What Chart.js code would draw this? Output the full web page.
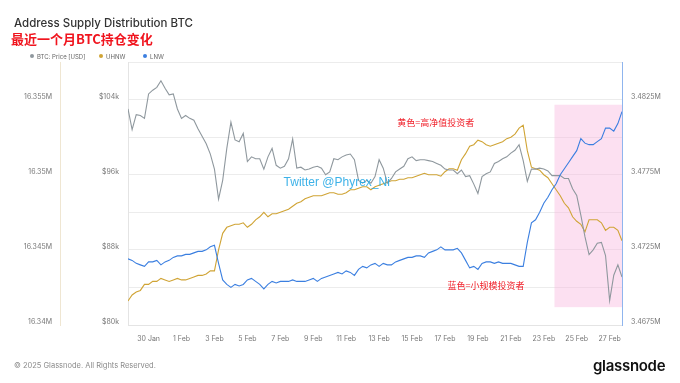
<!DOCTYPE html>
<html>
<head>
<meta charset="utf-8">
<script src="https://cdn.jsdelivr.net/npm/chart.js@4.4.1/dist/chart.umd.min.js"></script>
<style>
  html, body { margin: 0; padding: 0; background: #fff; }
  #wrap { position: relative; width: 680px; height: 383px; overflow: hidden; font-family: Inter, 'Noto Sans', sans-serif; }
  #chart { position: absolute; left: 0; top: 0; }
  .title { position: absolute; left: 14px; top: 16px; font-size: 11.5px; color: #333; font-weight: 500; white-space: nowrap; }
  .sub { position: absolute; left: 11px; top: 29px; font-size: 13px; color: #f0141e; font-weight: 700; font-family: 'Noto Sans CJK SC', sans-serif; white-space: nowrap; }
  .lg { position: absolute; top: 53px; font-size: 6px; color: #666; white-space: nowrap; }
  .lg i { display: inline-block; width: 4px; height: 4px; border-radius: 50%; margin-right: 3px; vertical-align: middle; position: relative; top: -1px; }
  .foot { position: absolute; left: 14px; top: 361px; font-size: 7.5px; color: #8a8a8a; white-space: nowrap; }
  .logo { position: absolute; left: 593px; top: 356px; font-size: 15px; font-weight: 600; color: #111; letter-spacing: -0.3px; }
</style>
</head>
<body>
<div id="wrap">
  <canvas id="chart" width="680" height="383"></canvas>
  <div class="title">Address Supply Distribution BTC</div>
  <div class="sub">最近一个月BTC持仓变化</div>
  <div class="lg" style="left:30px"><i style="background:#8f989e"></i>BTC: Price [USD]</div>
  <div class="lg" style="left:99px"><i style="background:#d0a435"></i>UHNW</div>
  <div class="lg" style="left:143px"><i style="background:#3b7fe0"></i>LNW</div>
  <div class="foot">© 2025 Glassnode. All Rights Reserved.</div>
  <div class="logo">glassnode</div>
</div>
<script>
// 6-hourly samples, 28 Jan 18:00 -> 27 Feb 18:00 (days since 30 Jan 00:00)
const sampleDays = Array.from({ length: 121 }, (_, i) => -1.25 + i * 0.25);

const xTicks = [0, 2, 4, 6, 8, 10, 12, 14, 16, 18, 20, 22, 24, 26, 28];
const xTickLabels = ['30 Jan', '1 Feb', '3 Feb', '5 Feb', '7 Feb', '9 Feb', '11 Feb', '13 Feb',
  '15 Feb', '17 Feb', '19 Feb', '21 Feb', '23 Feb', '25 Feb', '27 Feb'];

const priceTicksK = [80, 84, 88, 92, 96, 100, 104, 108];
const priceLabelTicksK = [80, 88, 96, 104];
const uhnwTicksM = [16.34, 16.345, 16.35, 16.355];
const lnwTicksM = [3.4675, 3.4725, 3.4775, 3.4825];

// BTC price, $k
const btcPriceK = [
  103.0, 100.8, 102.4, 102.3, 102.0, 104.6, 105.0, 105.3, 106.0, 105.2,
  104.5, 104.6, 103.0, 102.0, 102.3, 102.0, 101.8, 100.9, 100.1, 99.3,
  98.2, 96.6, 93.4, 95.4, 98.8, 101.6, 99.7, 99.5, 100.4, 97.4,
  97.9, 97.7, 97.7, 96.6, 97.9, 98.8, 97.0, 96.7, 96.9, 97.7,
  99.8, 96.7, 96.8, 96.5, 96.6, 96.8, 96.9, 96.7, 96.0, 96.3,
  97.7, 97.6, 97.9, 98.1, 98.2, 97.6, 95.4, 95.1, 95.4, 95.1,
  95.8, 97.6, 96.7, 95.1, 95.6, 96.3, 96.6, 96.9, 97.7, 97.9,
  97.5, 97.6, 97.6, 97.5, 97.4, 97.2, 97.0, 96.6, 96.5, 96.5,
  96.1, 96.5, 95.8, 95.9, 95.0, 94.0, 95.8, 96.1, 96.3, 97.2,
  97.4, 97.7, 97.9, 98.3, 98.6, 99.2, 97.5, 95.3, 96.6, 96.6,
  96.7, 96.6, 96.4, 95.9, 95.9, 95.9, 95.6, 95.6, 94.5, 93.8,
  91.7, 89.4, 87.5, 88.0, 88.7, 88.8, 87.4, 82.6, 85.3, 86.4,
  85.1
];

// UHNW supply, M BTC
const uhnwM = [
  16.3416, 16.3420, 16.3422, 16.3423, 16.3427, 16.3427, 16.3429, 16.3429, 16.3431, 16.3430,
  16.3429, 16.3430, 16.3431, 16.3430, 16.3430, 16.3431, 16.3432, 16.3433, 16.3433, 16.3434,
  16.3436, 16.3436, 16.3450, 16.3461, 16.3465, 16.3466, 16.3467, 16.3467, 16.3468, 16.3465,
  16.3467, 16.3470, 16.3472, 16.3475, 16.3472, 16.3474, 16.3474, 16.3475, 16.3476, 16.3477,
  16.3479, 16.3481, 16.3482, 16.3484, 16.3485, 16.3486, 16.3486, 16.3486, 16.3487, 16.3488,
  16.3488, 16.3487, 16.3487, 16.3488, 16.3490, 16.3490, 16.3491, 16.3492, 16.3492, 16.3490,
  16.3492, 16.3493, 16.3494, 16.3495, 16.3496, 16.3496, 16.3497, 16.3497, 16.3498, 16.3498,
  16.3499, 16.3500, 16.3501, 16.3500, 16.3500, 16.3500, 16.3499, 16.3502, 16.3504, 16.3504,
  16.3503, 16.3510, 16.3514, 16.3519, 16.3520, 16.3523, 16.3522, 16.3520, 16.3519, 16.3520,
  16.3521, 16.3522, 16.3524, 16.3525, 16.3527, 16.3531, 16.3533, 16.3516, 16.3505, 16.3504,
  16.3503, 16.3500, 16.3498, 16.3494, 16.3490, 16.3486, 16.3481, 16.3478, 16.3472, 16.3469,
  16.3467, 16.3462, 16.3470, 16.3470, 16.3470, 16.3468, 16.3463, 16.3465, 16.3465, 16.3463,
  16.3456
];

// LNW supply, M BTC
const lnwM = [
  3.4719, 3.4718, 3.4716, 3.4715, 3.4714, 3.4717, 3.4717, 3.4718, 3.4715, 3.4717,
  3.4718, 3.4720, 3.4721, 3.4721, 3.4722, 3.4722, 3.4723, 3.4724, 3.4724, 3.4725,
  3.4727, 3.4728, 3.4716, 3.4705, 3.4702, 3.4700, 3.4702, 3.4701, 3.4702, 3.4705,
  3.4706, 3.4704, 3.4702, 3.4699, 3.4702, 3.4704, 3.4703, 3.4704, 3.4704, 3.4704,
  3.4705, 3.4704, 3.4704, 3.4704, 3.4705, 3.4706, 3.4704, 3.4706, 3.4707, 3.4708,
  3.4709, 3.4710, 3.4709, 3.4711, 3.4710, 3.4708, 3.4712, 3.4714, 3.4713, 3.4715,
  3.4716, 3.4714, 3.4716, 3.4715, 3.4715, 3.4717, 3.4718, 3.4719, 3.4720, 3.4720,
  3.4721, 3.4721, 3.4720, 3.4723, 3.4724, 3.4725, 3.4727, 3.4725, 3.4725, 3.4725,
  3.4726, 3.4723, 3.4718, 3.4713, 3.4714, 3.4712, 3.4716, 3.4717, 3.4717, 3.4716,
  3.4717, 3.4716, 3.4716, 3.4716, 3.4715, 3.4714, 3.4714, 3.4730, 3.4743, 3.4745,
  3.4750, 3.4756, 3.4760, 3.4765, 3.4769, 3.4775, 3.4779, 3.4783, 3.4787, 3.4791,
  3.4799, 3.4796, 3.4795, 3.4795, 3.4797, 3.4799, 3.4806, 3.4806, 3.4804, 3.4809,
  3.4817
];

// hand-drawn highlight box and notes, in data units
const highlight = { fromDay: 24.65, toDay: 28.75, topK: 103.45, bottomK: 81.9 };
const notes = [
  { text: '黄色=高净值投资者', day: 15.1, priceK: 101.6, color: '#f0202a', font: '9px "Noto Sans CJK SC"' },
  { text: '蓝色=小规模投资者', day: 18.15, priceK: 84.25, color: '#f0202a', font: '9px "Noto Sans CJK SC"' },
  { text: 'Twitter @Phyrex_Ni', day: 8.2, priceK: 95.1, color: 'rgba(40,170,230,0.9)', font: '12px "Liberation Sans"' }
];

const toPoints = (vals) => vals.map((v, i) => ({ x: sampleDays[i], y: v }));
const fmtM = (v) => +v.toFixed(4) + 'M';

const overlay = {
  id: 'overlay',
  beforeDatasetsDraw(chart) {
    const { ctx, scales: { x, yPrice } } = chart;
    const l = x.getPixelForValue(highlight.fromDay), r = x.getPixelForValue(highlight.toDay);
    const t = yPrice.getPixelForValue(highlight.topK), b = yPrice.getPixelForValue(highlight.bottomK);
    ctx.save();
    ctx.fillStyle = 'rgba(248,180,222,0.42)';
    ctx.fillRect(l, t, r - l, b - t);
    ctx.restore();
  },
  afterDatasetsDraw(chart) {
    const { ctx, scales: { x, yPrice } } = chart;
    ctx.save();
    ctx.textBaseline = 'middle';
    ctx.textAlign = 'left';
    notes.forEach(n => {
      ctx.font = n.font;
      ctx.fillStyle = n.color;
      ctx.fillText(n.text, x.getPixelForValue(n.day), yPrice.getPixelForValue(n.priceK));
    });
    ctx.restore();
  }
};

Chart.defaults.font.family = 'Inter';
Chart.defaults.font.size = 7;
Chart.defaults.color = '#777';

new Chart(document.getElementById('chart'), {
  type: 'line',
  data: {
    datasets: [
      { label: 'LNW', data: toPoints(lnwM), yAxisID: 'yLnw', borderColor: '#3b7fe0', borderWidth: 1.1, pointRadius: 0, tension: 0 },
      { label: 'BTC: Price [USD]', data: toPoints(btcPriceK), yAxisID: 'yPrice', borderColor: '#8f989e', borderWidth: 1.1, pointRadius: 0, tension: 0 },
      { label: 'UHNW', data: toPoints(uhnwM), yAxisID: 'yUhnw', borderColor: '#d0a435', borderWidth: 1.1, pointRadius: 0, tension: 0 }
    ]
  },
  options: {
    responsive: false,
    animation: false,
    layout: { padding: { left: 10, right: 10, top: 62, bottom: 38 } },
    plugins: { legend: { display: false }, tooltip: { enabled: false } },
    scales: {
      x: {
        type: 'linear', min: -1.25, max: 28.75,
        afterBuildTicks: (axis) => { axis.ticks = xTicks.map(v => ({ value: v })); },
        afterFit: (axis) => { axis.height = 20; },
        ticks: { autoSkip: false, maxRotation: 0, padding: 10, callback: (v) => xTickLabels[xTicks.indexOf(v)] },
        grid: { display: false, drawTicks: false },
        border: { color: '#e4e4e4' }
      },
      yPrice: {
        position: 'left', weight: 0, min: 80, max: 108,
        afterBuildTicks: (axis) => { axis.ticks = priceTicksK.map(v => ({ value: v })); },
        afterFit: (axis) => { axis.width = 68; },
        ticks: { padding: 9, labelOffset: -3, callback: (v) => priceLabelTicksK.includes(v) ? '$' + v + 'k' : '' },
        grid: { color: '#ececec', drawTicks: false },
        border: { color: '#e4e4e4' }
      },
      yUhnw: {
        position: 'left', weight: 1, min: 16.34, max: 16.3575,
        afterBuildTicks: (axis) => { axis.ticks = uhnwTicksM.map(v => ({ value: v })); },
        afterFit: (axis) => { axis.width = 50; },
        ticks: { padding: 8, labelOffset: -3, callback: fmtM },
        grid: { drawOnChartArea: false, drawTicks: false },
        border: { color: '#efe6d2' }
      },
      yLnw: {
        position: 'right', min: 3.4675, max: 3.485,
        afterBuildTicks: (axis) => { axis.ticks = lnwTicksM.map(v => ({ value: v })); },
        afterFit: (axis) => { axis.width = 48; },
        ticks: { padding: 9, labelOffset: -3, callback: fmtM },
        grid: { drawOnChartArea: false, drawTicks: false },
        border: { color: '#8fb5ee' }
      }
    }
  },
  plugins: [overlay]
});
</script>
</body>
</html>
